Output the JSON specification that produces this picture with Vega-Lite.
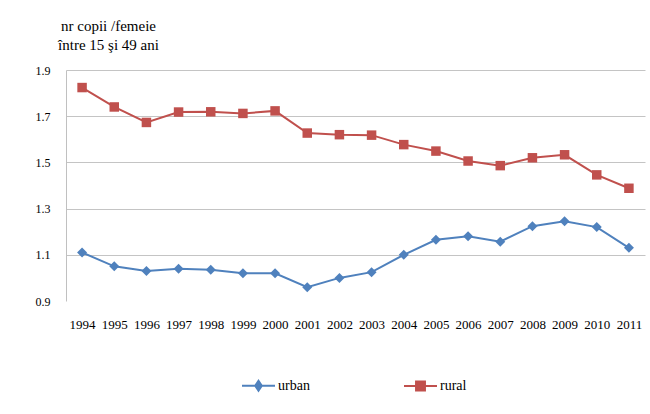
{
  "$schema": "https://vega.github.io/schema/vega-lite/v6.json",
  "autosize": {"type": "none"},
  "width": 579,
  "height": 231,
  "padding": {"left": 66, "top": 70, "right": 5, "bottom": 113},
  "background": "white",
  "config": {
    "font": "Liberation Serif, Times New Roman, DejaVu Serif, serif",
    "axis": {"labelFont": "Liberation Serif, Times New Roman, DejaVu Serif, serif", "titleFont": "Liberation Serif, Times New Roman, DejaVu Serif, serif"},
    "legend": {"labelFont": "Liberation Serif, Times New Roman, DejaVu Serif, serif", "titleFont": "Liberation Serif, Times New Roman, DejaVu Serif, serif"},
    "view": {"stroke": null}
  },
  "data": {
    "values": [
      {"year": "1994", "series": "urban", "value": 1.11},
      {"year": "1995", "series": "urban", "value": 1.05},
      {"year": "1996", "series": "urban", "value": 1.03},
      {"year": "1997", "series": "urban", "value": 1.04},
      {"year": "1998", "series": "urban", "value": 1.035},
      {"year": "1999", "series": "urban", "value": 1.02},
      {"year": "2000", "series": "urban", "value": 1.02},
      {"year": "2001", "series": "urban", "value": 0.96},
      {"year": "2002", "series": "urban", "value": 1.0},
      {"year": "2003", "series": "urban", "value": 1.025},
      {"year": "2004", "series": "urban", "value": 1.1},
      {"year": "2005", "series": "urban", "value": 1.165},
      {"year": "2006", "series": "urban", "value": 1.18},
      {"year": "2007", "series": "urban", "value": 1.157},
      {"year": "2008", "series": "urban", "value": 1.224},
      {"year": "2009", "series": "urban", "value": 1.245},
      {"year": "2010", "series": "urban", "value": 1.22},
      {"year": "2011", "series": "urban", "value": 1.13},
      {"year": "1994", "series": "rural", "value": 1.824},
      {"year": "1995", "series": "rural", "value": 1.74},
      {"year": "1996", "series": "rural", "value": 1.673},
      {"year": "1997", "series": "rural", "value": 1.718},
      {"year": "1998", "series": "rural", "value": 1.719},
      {"year": "1999", "series": "rural", "value": 1.712},
      {"year": "2000", "series": "rural", "value": 1.723},
      {"year": "2001", "series": "rural", "value": 1.627},
      {"year": "2002", "series": "rural", "value": 1.62},
      {"year": "2003", "series": "rural", "value": 1.618},
      {"year": "2004", "series": "rural", "value": 1.577},
      {"year": "2005", "series": "rural", "value": 1.549},
      {"year": "2006", "series": "rural", "value": 1.506},
      {"year": "2007", "series": "rural", "value": 1.486},
      {"year": "2008", "series": "rural", "value": 1.52},
      {"year": "2009", "series": "rural", "value": 1.533},
      {"year": "2010", "series": "rural", "value": 1.446},
      {"year": "2011", "series": "rural", "value": 1.388}
    ]
  },
  "encoding": {
    "x": {
      "field": "year",
      "type": "ordinal",
      "scale": {"type": "point", "padding": 0.5},
      "axis": {
        "title": null,
        "labelAngle": 0,
        "domain": false,
        "ticks": false,
        "labelPadding": 17,
        "labelFontSize": 13,
        "labelColor": "#000000",
        "grid": false
      }
    },
    "y": {
      "field": "value",
      "type": "quantitative",
      "scale": {"domain": [0.9, 1.9], "nice": false, "zero": false},
      "axis": {
        "values": [0.9, 1.1, 1.3, 1.5, 1.7, 1.9],
        "format": ".1f",
        "title": ["nr copii /femeie", "între 15 şi 49 ani"],
        "titleAngle": 0,
        "titleAlign": "center",
        "titleBaseline": "top",
        "titleX": 42,
        "titleY": -52,
        "titleFontSize": 15,
        "titleFontWeight": "normal",
        "titleLineHeight": 19,
        "titleColor": "#000000",
        "labelFontSize": 12,
        "labelColor": "#000000",
        "labelPadding": 16,
        "ticks": false,
        "domainColor": "#c0c0c0",
        "grid": true,
        "gridColor": {"condition": {"test": "datum.value < 1", "value": "transparent"}, "value": "#c4c4c4"},
        "gridWidth": 1
      }
    },
    "color": {
      "field": "series",
      "type": "nominal",
      "scale": {"domain": ["urban", "rural"], "range": ["#4F81BD", "#C0504D"]},
      "legend": {
        "title": null,
        "orient": "none",
        "direction": "horizontal",
        "legendX": 175,
        "legendY": 298,
        "padding": 0,
        "columnPadding": 90,
        "labelOffset": 2,
        "labelFontSize": 14,
        "labelColor": "#000000",
        "symbolSize": 1089,
        "symbolOpacity": 1,
        "encode": {
          "symbols": {
            "update": {
              "shape": {"signal": "datum.value === 'urban' ? 'M-1,0L1,0M0,-0.3L0.2,0L0,0.3L-0.2,0Z' : 'M-1,0L1,0M-0.27,-0.27L0.27,-0.27L0.27,0.27L-0.27,0.27Z'"},
              "size": {"value": 1089},
              "stroke": {"signal": "datum.value === 'urban' ? '#4F81BD' : '#C0504D'"},
              "fill": {"signal": "datum.value === 'urban' ? '#4F81BD' : '#C0504D'"},
              "strokeWidth": {"value": 2},
              "opacity": {"value": 1}
            }
          }
        }
      }
    }
  },
  "layer": [
    {
      "mark": {"type": "line", "strokeWidth": 2}
    },
    {
      "transform": [{"filter": "datum.series === 'urban'"}],
      "mark": {"type": "point", "filled": true, "opacity": 1, "size": 100, "shape": "diamond"}
    },
    {
      "transform": [{"filter": "datum.series === 'rural'"}],
      "mark": {"type": "point", "filled": true, "opacity": 1, "size": 90, "shape": "square"}
    }
  ]
}
